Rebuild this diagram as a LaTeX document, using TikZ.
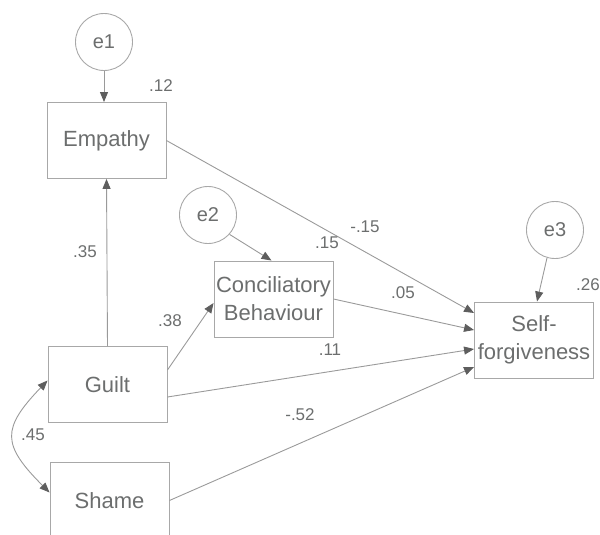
\documentclass[tikz,border=0pt]{standalone}
\usepackage{fontspec}
\setmainfont{Liberation Sans}
\usetikzlibrary{arrows.meta}
\definecolor{txtgray}{HTML}{6C6E6E}
\definecolor{boxgray}{HTML}{A8A8A8}
\definecolor{linegray}{HTML}{9A9A9A}
\definecolor{tipgray}{HTML}{5E5E5E}
\tikzset{
  var/.style={draw=boxgray, line width=0.9pt, rectangle, minimum width=119pt, minimum height=76pt,
    inner sep=0pt, text=txtgray, font=\fontsize{22}{28}\selectfont, align=center},
  err/.style={draw=boxgray, line width=0.9pt, circle, minimum size=57pt, inner sep=0pt,
    text=txtgray, font=\fontsize{20}{24}\selectfont},
  path/.style={draw=linegray, line width=0.9pt, -{Triangle[length=10pt,width=8pt,fill=tipgray,color=tipgray]}},
  cov/.style={draw=linegray, line width=0.9pt, {Triangle[length=10pt,width=8pt,fill=tipgray,color=tipgray]}-{Triangle[length=10pt,width=8pt,fill=tipgray,color=tipgray]}},
  coef/.style={text=txtgray, font=\fontsize{17}{19}\selectfont, inner sep=0pt}
}
\begin{document}
\begin{tikzpicture}[x=1pt,y=-1pt]
\useasboundingbox (0,0) rectangle (600,535);
\clip (0,0) rectangle (600,535);

% observed variables
\node[var] (emp) at (106.5,140.5) {Empathy};
\node[var] (con) at (273.5,299) {Conciliatory\\Behaviour};
\node[var] (sf) at (534,340) {Self-\\forgiveness};
\node[var] (gui) at (107.5,384.5) {Guilt};
\node[var] (sha) at (109.5,500.5) {Shame};

% error terms
\node[err] (e1) at (104,42) {e1};
\node[err] (e2) at (208,215) {e2};
\node[err] (e3) at (555,230) {e3};

% paths (shifts are in page direction: positive = up)
\draw[path] (e1.south) -- (e1.south |- emp.north);
\draw[path] (e2.-42) -- ([xshift=-2pt]con.north);
\draw[path] (e3.-106) -- ([xshift=3pt]sf.north);
\draw[path] (gui.north) -- (emp.south);
\draw[path] ([yshift=14.5pt]gui.east) -- ([yshift=-4pt]con.west);
\draw[path] (emp.east) -- ([yshift=27pt]sf.west);
\draw[path] (con.east) -- ([yshift=10pt]sf.west);
\draw[path] ([yshift=-12.5pt]gui.east) -- ([yshift=-9pt]sf.west);
\draw[path] (sha.east) -- ([yshift=-27pt]sf.west);

% covariance
\draw[cov] ([yshift=4pt]gui.west) .. controls +(-46,48) and +(-48,-48) .. ([yshift=8pt]sha.west);

% coefficients
\node[coef] (r1) at (161,86) {.12};
\node[coef] (r2) at (327,243) {.15};
\node[coef] (r3) at (588,285) {.26};
\node[coef] (c1) at (85,252) {.35};
\node[coef] (c2) at (170,321) {.38};
\node[coef] (c3) at (365,227) {-.15};
\node[coef] (c4) at (403,293) {.05};
\node[coef] (c5) at (330,350) {.11};
\node[coef] (c6) at (300,415) {-.52};
\node[coef] (c7) at (33,435) {.45};
\end{tikzpicture}
\end{document}
